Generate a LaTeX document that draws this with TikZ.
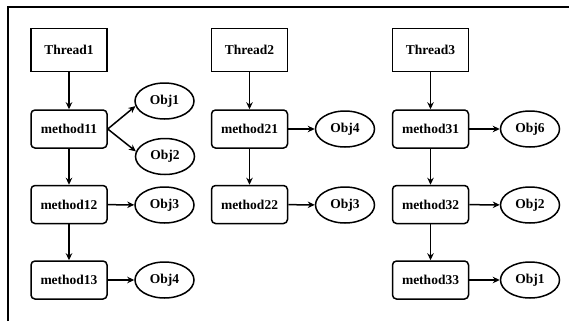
\documentclass[tikz,border=0pt]{standalone}
\usepackage{fontspec}
\setmainfont{Liberation Serif}
\usetikzlibrary{shapes.geometric,arrows.meta}
\begin{document}
\begin{tikzpicture}[x=1pt,y=-1pt,
  every node/.style={font=\fontsize{13.5}{15}\selectfont\bfseries, inner sep=0pt},
  threadbox/.style={draw, line width=1.5pt, minimum width=76pt, minimum height=43pt},
  methodbox/.style={draw, line width=1.5pt, rounded corners=4pt, minimum width=76pt, minimum height=38pt},
  objnode/.style={draw, ellipse, line width=1.5pt, minimum width=59pt, minimum height=36pt},
  link/.style={line width=1.5pt, -{Stealth[length=7pt,width=6.5pt]}}]
\useasboundingbox (0,0) rectangle (569,321);
% open frame: only the top and left edges are visible
\draw[line width=1.8pt] (8,321) -- (8,7) -- (569,7);

% first thread
\node[threadbox] (t1) at (69,50) {Thread1};
\node[methodbox] (m11) at (69,129) {method11};
\node[methodbox] (m12) at (69,204.5) {method12};
\node[methodbox] (m13) at (69,280) {method13};
\node[objnode] (o11) at (164.5,101) {Obj1};
\node[objnode] (o12) at (165,156.5) {Obj2};
\node[objnode] (o13) at (164.5,205) {Obj3};
\node[objnode] (o14) at (164.5,280) {Obj4};

% second thread
\node[threadbox] (t2) at (249.5,50) {Thread2};
\node[methodbox] (m21) at (249.5,129) {method21};
\node[methodbox] (m22) at (249.5,204.5) {method22};
\node[objnode] (o21) at (345,129) {Obj4};
\node[objnode] (o22) at (345,205) {Obj3};

% third thread
\node[threadbox] (t3) at (430.5,50) {Thread3};
\node[methodbox] (m31) at (430.5,129) {method31};
\node[methodbox] (m32) at (430.5,204.5) {method32};
\node[methodbox] (m33) at (430.5,280) {method33};
\node[objnode] (o31) at (530,129) {Obj6};
\node[objnode] (o32) at (530,205) {Obj2};
\node[objnode] (o33) at (530,280) {Obj1};

% call chains
\draw[link] (t1) -- (m11);
\draw[link] (m11) -- (m12);
\draw[link] (m12) -- (m13);
\draw[link] (m11.east) -- (o11.190);
\draw[link] (m11.east) -- (o12.170);
\draw[link] (m12) -- (o13);
\draw[link] (m13) -- (o14);

\draw[link] (t2) -- (m21);
\draw[link] (m21) -- (m22);
\draw[link] (m21) -- (o21);
\draw[link] (m22) -- (o22);

\draw[link] (t3) -- (m31);
\draw[link] (m31) -- (m32);
\draw[link] (m32) -- (m33);
\draw[link] (m31) -- (o31);
\draw[link] (m32) -- (o32);
\draw[link] (m33) -- (o33);
\end{tikzpicture}
\end{document}
